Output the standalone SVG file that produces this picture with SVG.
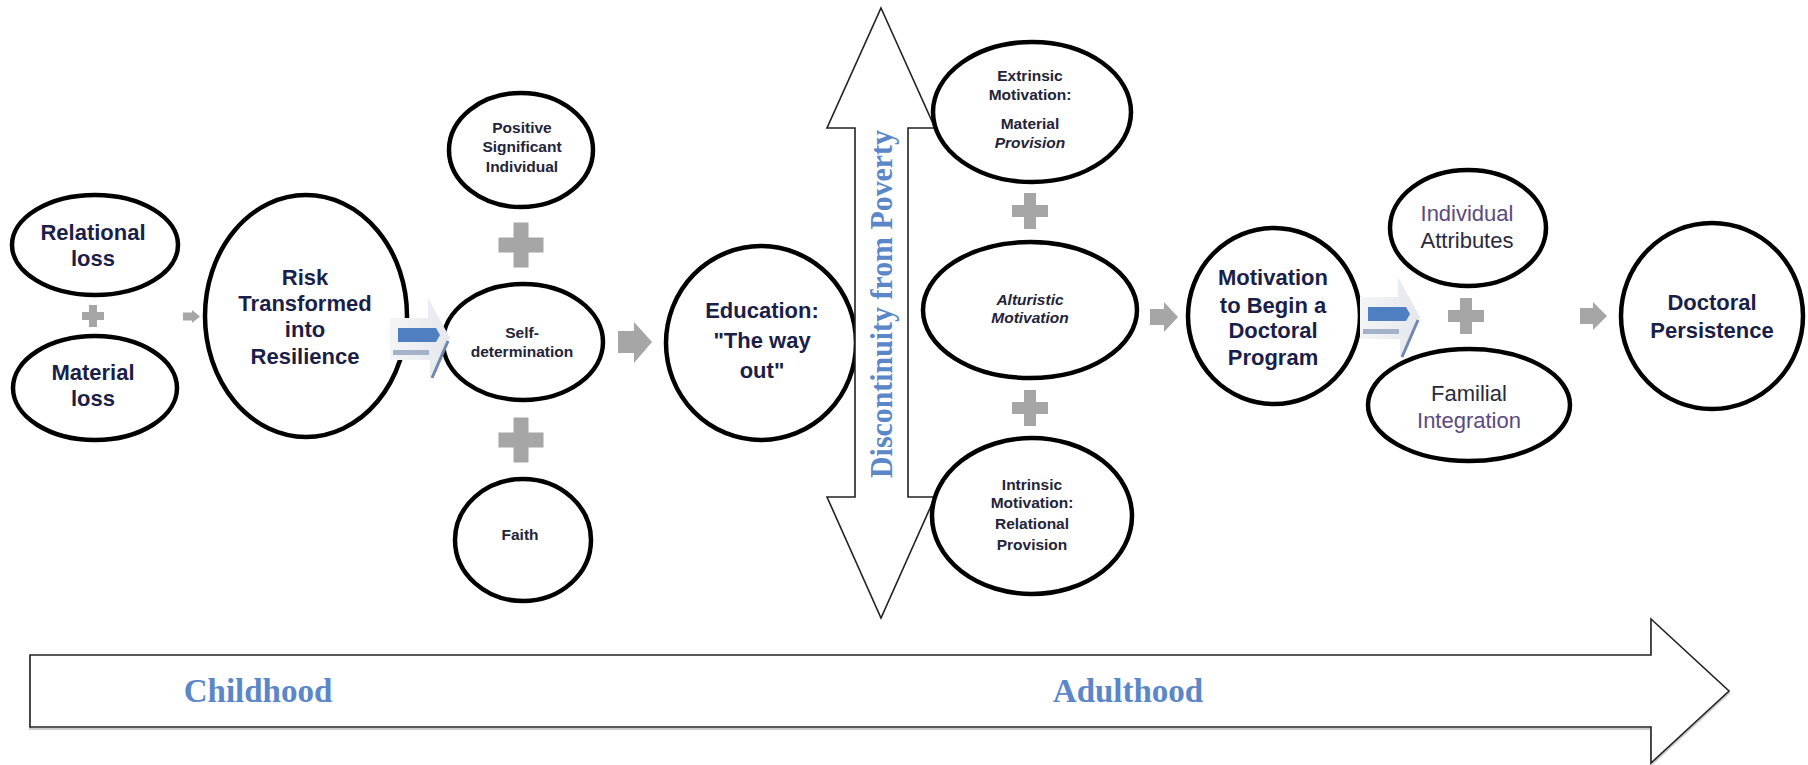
<svg xmlns="http://www.w3.org/2000/svg" width="1808" height="765" viewBox="0 0 1808 765">
<style>
.el{fill:#fff;stroke:#000;stroke-width:4.5}
.big{font-family:"Liberation Sans",Arial,sans-serif;font-weight:bold;font-size:22px;fill:#1b1f48;text-anchor:middle}
.reg{font-family:"Liberation Sans",Arial,sans-serif;font-size:22px;fill:#2a2a3a;text-anchor:middle}
.sm{font-family:"Liberation Sans",Arial,sans-serif;font-weight:bold;font-size:15.5px;fill:#23233a;text-anchor:middle}
.it{font-style:italic}
.pur{fill:#5b4a80}
.ser{font-family:"Liberation Serif","Times New Roman",serif;font-weight:bold;fill:#5b87c8}
.gray{fill:#a6a6a6}
.frame{fill:#fff;stroke:#222;stroke-width:1.6;stroke-linejoin:miter}
</style>
<defs>
<linearGradient id="chev" x1="0" y1="0" x2="1" y2="0">
<stop offset="0" stop-color="#f4f5f7"/>
<stop offset="1" stop-color="#e4e7ec"/>
</linearGradient>
<g id="arrow3d">
<polygon points="0,-20 38,-20 38,-40 60,0 40,40 40,22 0,22" fill="url(#chev)"/>
<path d="M8,-10 H46 L50,-3 L46,4 H8 Z" fill="#4f7fc0"/>
<rect x="3" y="12" width="36" height="5" fill="#a3b2c8"/>
<line x1="58" y1="3" x2="42" y2="40" stroke="#7088ad" stroke-width="3"/>
</g>
<path id="plusL" d="M-7.5,-22.5 H7.5 V-7.5 H22.5 V7.5 H7.5 V22.5 H-7.5 V7.5 H-22.5 V-7.5 H-7.5 Z"/>
<path id="plusM" d="M-6,-18 H6 V-6 H18 V6 H6 V18 H-6 V6 H-18 V-6 H-6 Z"/>
<path id="plusS" d="M-4,-11 H4 V-4 H11 V4 H4 V11 H-4 V4 H-11 V-4 H-4 Z"/>
</defs>

<g id="timeline">
<polygon points="30,657 1651,657 1651,621 1729,693 1651,765 1651,729 30,729" fill="none" stroke="#ccc" stroke-width="2"/>
<polygon class="frame" points="30,655 1651,655 1651,619 1729,691 1651,763 1651,727 30,727" stroke-width="2.2" stroke="#333"/>
<text class="ser" x="258" y="702" font-size="33" text-anchor="middle">Childhood</text>
<text class="ser" x="1128" y="702" font-size="33" text-anchor="middle">Adulthood</text>
</g>

<g id="education">
<ellipse class="el" cx="761" cy="343" rx="95" ry="97"/>
<text class="big"><tspan x="762" y="318">Education:</tspan><tspan x="762" y="348">"The way</tspan><tspan x="762" y="378">out"</tspan></text>
</g>

<g id="discontinuity">
<polygon class="frame" points="881,8 935,128 908,128 908,497 935,497 881,618 827,497 855,497 855,128 827,128"/>
<text class="ser" font-size="31" text-anchor="middle" transform="translate(892,304) rotate(-90)" textLength="348" lengthAdjust="spacingAndGlyphs">Discontinuity from Poverty</text>
</g>

<g id="relational-loss">
<ellipse class="el" cx="95" cy="245" rx="83" ry="50"/>
<text class="big"><tspan x="93" y="240">Relational</tspan><tspan x="93" y="266">loss</tspan></text>
</g>
<g id="material-loss">
<ellipse class="el" cx="95" cy="388" rx="82" ry="52"/>
<text class="big"><tspan x="93" y="380">Material</tspan><tspan x="93" y="406">loss</tspan></text>
</g>
<g id="risk">
<ellipse class="el" cx="306" cy="316" rx="101" ry="121"/>
<text class="big"><tspan x="305" y="285">Risk</tspan><tspan x="305" y="311">Transformed</tspan><tspan x="305" y="337">into</tspan><tspan x="305" y="364">Resilience</tspan></text>
</g>
<g id="positive">
<ellipse class="el" cx="521" cy="150" rx="72" ry="57"/>
<text class="sm"><tspan x="522" y="133">Positive</tspan><tspan x="522" y="152">Significant</tspan><tspan x="522" y="172">Individual</tspan></text>
</g>
<g id="self-determination">
<ellipse class="el" cx="523" cy="342" rx="80" ry="58"/>
<text class="sm"><tspan x="522" y="338">Self-</tspan><tspan x="522" y="357">determination</tspan></text>
</g>
<g id="faith">
<ellipse class="el" cx="523" cy="540" rx="68" ry="61"/>
<text class="sm" x="520" y="540">Faith</text>
</g>
<g id="extrinsic">
<ellipse class="el" cx="1032" cy="112" rx="99" ry="70"/>
<text class="sm"><tspan x="1030" y="81">Extrinsic</tspan><tspan x="1030" y="100">Motivation:</tspan><tspan x="1030" y="129">Material</tspan><tspan x="1030" y="148" class="it">Provision</tspan></text>
</g>
<g id="altruistic">
<ellipse class="el" cx="1030" cy="310" rx="107" ry="68"/>
<text class="sm it"><tspan x="1030" y="305">Alturistic</tspan><tspan x="1030" y="323">Motivation</tspan></text>
</g>
<g id="intrinsic">
<ellipse class="el" cx="1032" cy="516" rx="100" ry="78"/>
<text class="sm"><tspan x="1032" y="490">Intrinsic</tspan><tspan x="1032" y="508">Motivation:</tspan><tspan x="1032" y="529">Relational</tspan><tspan x="1032" y="550">Provision</tspan></text>
</g>
<g id="motivation">
<ellipse class="el" cx="1274" cy="316" rx="86" ry="88"/>
<text class="big"><tspan x="1273" y="285">Motivation</tspan><tspan x="1273" y="313">to Begin a</tspan><tspan x="1273" y="338">Doctoral</tspan><tspan x="1273" y="365">Program</tspan></text>
</g>
<g id="individual-attributes">
<ellipse class="el" cx="1468" cy="228" rx="78" ry="58"/>
<text class="reg"><tspan x="1467" y="221" class="pur">Individual</tspan><tspan x="1467" y="248">Attributes</tspan></text>
</g>
<g id="familial-integration">
<ellipse class="el" cx="1469" cy="405" rx="101" ry="56"/>
<text class="reg"><tspan x="1469" y="401">Familial</tspan><tspan x="1469" y="428" class="pur">Integration</tspan></text>
</g>
<g id="doctoral-persistence">
<ellipse class="el" cx="1712" cy="316" rx="91" ry="93"/>
<text class="big"><tspan x="1712" y="310">Doctoral</tspan><tspan x="1712" y="338">Persistence</tspan></text>
</g>

<g id="plus-signs" class="gray">
<use href="#plusS" x="93" y="316"/>
<use href="#plusL" x="521" y="245"/>
<use href="#plusL" x="521" y="440"/>
<use href="#plusM" x="1030" y="211"/>
<use href="#plusM" x="1030" y="408"/>
<use href="#plusM" x="1466" y="316"/>
</g>

<g id="connectors">
<polygon class="gray" points="183,312.5 192,312.5 192,310 200,316.5 192,323 192,320.5 183,320.5"/>
<polygon class="gray" points="618,331 634,331 634,322 652,342 634,363 634,353 618,353"/>
<polygon class="gray" points="1150,309 1164,309 1164,302 1178,317 1164,332 1164,325 1150,325"/>
<polygon class="gray" points="1580,308 1593,308 1593,302 1607,316 1593,330 1593,324 1580,324"/>
<use href="#arrow3d" x="390" y="338"/>
<use href="#arrow3d" x="1360" y="317"/>
</g>
</svg>
